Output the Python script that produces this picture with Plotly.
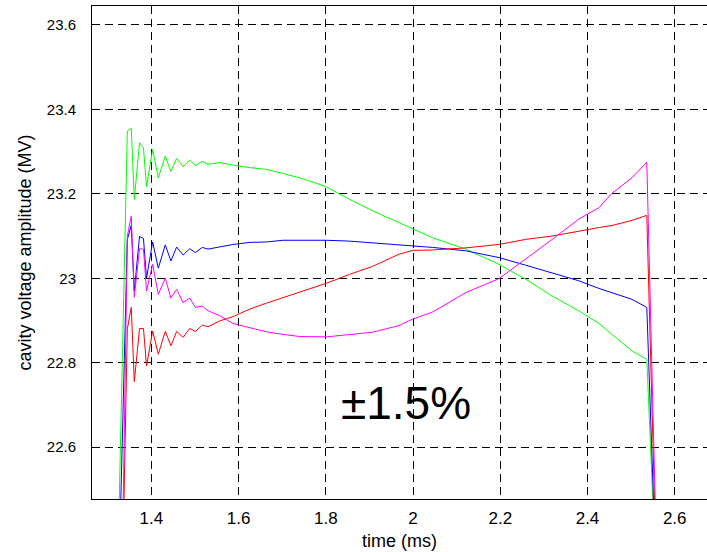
import plotly.graph_objects as go

# Sample times (ms) shared by all four cavity traces
time_ms = [1.319, 1.345, 1.354, 1.361, 1.373, 1.382, 1.389, 1.403, 1.416, 1.432,
           1.445, 1.458, 1.473, 1.488, 1.501, 1.517, 1.530, 1.557, 1.587, 1.626,
           1.664, 1.702, 1.740, 1.801, 1.854, 1.907, 1.968, 1.999, 2.045, 2.121,
           2.197, 2.258, 2.319, 2.380, 2.426, 2.456, 2.502, 2.536, 2.556]

# Cavity voltage amplitude (MV) per cavity
green_mv = [22.121, 23.349, 23.355, 23.187, 23.321, 23.309, 23.217, 23.305, 23.238, 23.289,
            23.253, 23.284, 23.264, 23.280, 23.267, 23.277, 23.270, 23.274, 23.268, 23.262,
            23.258, 23.248, 23.238, 23.217, 23.187, 23.160, 23.132, 23.116, 23.096, 23.069,
            23.033, 22.998, 22.958, 22.923, 22.893, 22.867, 22.828, 22.808, 22.325]

blue_mv = [22.020, 23.092, 23.125, 22.970, 23.099, 23.094, 23.000, 23.086, 23.024, 23.079,
           23.041, 23.074, 23.055, 23.070, 23.061, 23.073, 23.069, 23.074, 23.080, 23.085,
           23.086, 23.090, 23.090, 23.090, 23.088, 23.084, 23.080, 23.076, 23.073, 23.065,
           23.049, 23.031, 23.013, 22.994, 22.976, 22.966, 22.950, 22.931, 22.337]

red_mv = [21.507, 22.880, 22.931, 22.755, 22.881, 22.881, 22.792, 22.875, 22.820, 22.874,
          22.840, 22.874, 22.860, 22.881, 22.874, 22.889, 22.885, 22.899, 22.909, 22.927,
          22.941, 22.954, 22.966, 22.988, 23.009, 23.028, 23.057, 23.066, 23.067, 23.072,
          23.080, 23.092, 23.100, 23.112, 23.120, 23.125, 23.137, 23.149, 22.385]

magenta_mv = [21.360, 23.100, 23.147, 22.955, 23.070, 23.069, 22.970, 23.033, 22.962, 23.000,
              22.953, 22.974, 22.942, 22.953, 22.931, 22.934, 22.923, 22.911, 22.893, 22.883,
              22.873, 22.867, 22.862, 22.861, 22.866, 22.872, 22.888, 22.903, 22.920, 22.966,
              22.999, 23.045, 23.092, 23.140, 23.167, 23.201, 23.238, 23.275, 22.440]

x_ticks = [1.4, 1.6, 1.8, 2.0, 2.2, 2.4, 2.6]
x_tick_text = ["1.4", "1.6", "1.8", "2", "2.2", "2.4", "2.6"]
y_ticks = [22.6, 22.8, 23.0, 23.2, 23.4, 23.6]
y_tick_text = ["22.6", "22.8", "23", "23.2", "23.4", "23.6"]

series = [
    (green_mv, "#00ff00"),
    (blue_mv, "#0000ff"),
    (red_mv, "#ff0000"),
    (magenta_mv, "#ff00ff"),
]

fig = go.Figure()
for values, color in series:
    fig.add_trace(go.Scatter(
        x=time_ms, y=values, mode="lines",
        line=dict(color=color, width=1),
        showlegend=False, hoverinfo="skip",
    ))

fig.update_layout(
    width=707, height=552,
    margin=dict(l=92, r=0, t=6, b=53),
    plot_bgcolor="white", paper_bgcolor="white",
    font=dict(family="Liberation Sans, Arial, sans-serif", color="black"),
)

grid_style = dict(
    showgrid=True, gridcolor="black", gridwidth=1, griddash="8px,5px",
    zeroline=False, showline=True, linecolor="black", linewidth=1, ticks="",
)

fig.update_xaxes(
    range=[1.264, 2.674], tickvals=x_ticks, ticktext=x_tick_text,
    tickfont=dict(size=17), mirror=True, ticklabelstandoff=4,
    title=dict(text="time (ms)", font=dict(size=18), standoff=6),
    **grid_style,
)
fig.update_yaxes(
    range=[22.477, 23.645], tickvals=y_ticks, ticktext=y_tick_text,
    tickfont=dict(size=15),
    mirror=False, ticklabelstandoff=12,
    title=dict(text="cavity voltage amplitude (MV)", font=dict(size=18), standoff=10),
    **grid_style,
)

fig.add_annotation(
    x=1.983, y=22.704, text="±1.5%", showarrow=False,
    xanchor="center", yanchor="middle", font=dict(size=46, color="black"),
)

fig.write_html("out.html")
